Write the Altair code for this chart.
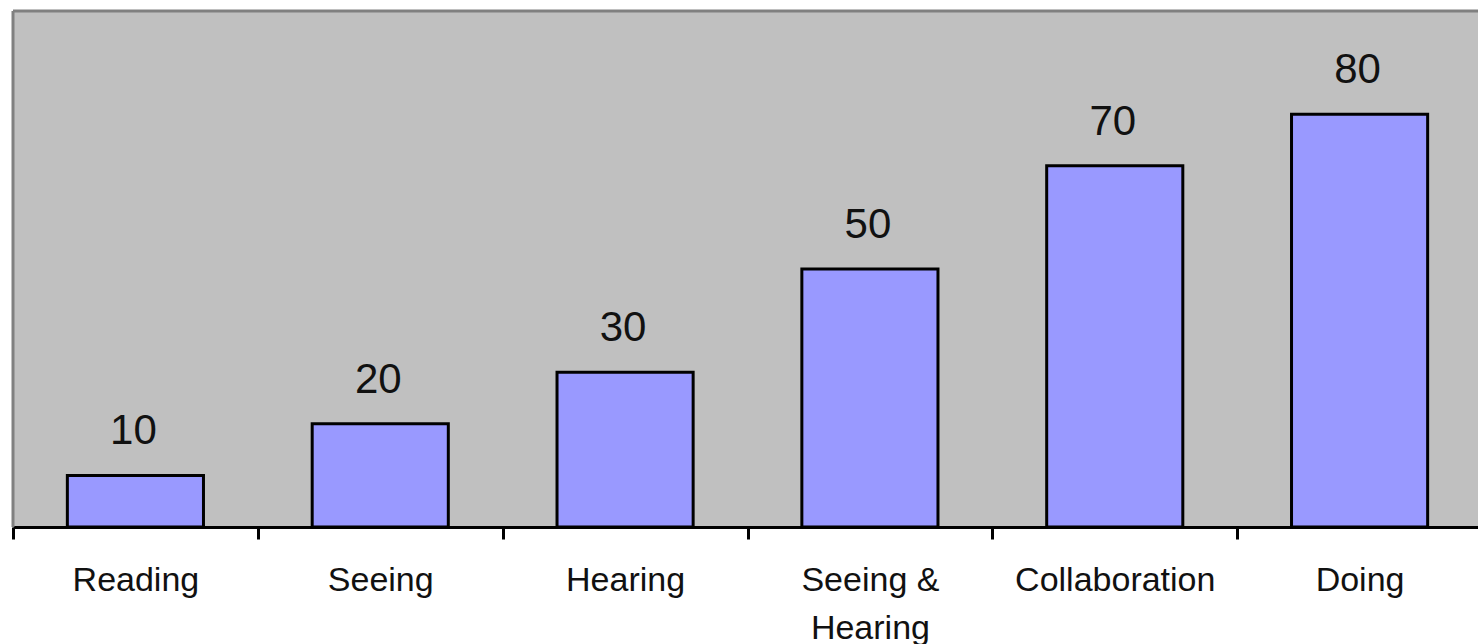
import altair as alt
import pandas as pd

categories = ["Reading", "Seeing", "Hearing", "Seeing & Hearing", "Collaboration", "Doing"]
values = [10, 20, 30, 50, 70, 80]

df = pd.DataFrame({"category": categories, "value": values})

W = 1465
H = 516

x_enc = alt.X(
    "category:N",
    sort=categories,
    title=None,
    scale=alt.Scale(range=[0, 1469], paddingInner=0, paddingOuter=0),
    axis=alt.Axis(
        labelAngle=0,
        labelFont="Liberation Sans",
        labelFontSize=34,
        labelColor="#111111",
        labelPadding=24,
        labelLineHeight=48,
        labelLimit=1000,
        labelExpr="datum.label == 'Seeing & Hearing' ? ['Seeing &', 'Hearing'] : datum.label",
        domainColor="black",
        domainWidth=3,
        tickColor="black",
        tickWidth=3,
        tickSize=12,
        tickBand="extent",
        grid=False,
    ),
)
y_enc = alt.Y("value:Q", scale=alt.Scale(domain=[0, 100]), axis=None)

base = alt.Chart(df)

bars = base.mark_bar(fill="#9999FF", stroke="black", strokeWidth=3, width={"band": 0.556}).encode(
    x=x_enc, y=y_enc
)

labels = base.mark_text(
    font="Liberation Sans", fontSize=42, color="#111111", baseline="alphabetic", dy=-31, dx=-2
).encode(x=x_enc, y=y_enc, text=alt.Text("value:Q"))

border_df = pd.DataFrame({"a": [0]})
top_border = alt.Chart(border_df).mark_rule(color="#808080", strokeWidth=3).encode(
    x=alt.value(0), x2=alt.value(W + 10), y=alt.value(0)
)
left_border = alt.Chart(border_df).mark_rule(color="#808080", strokeWidth=3).encode(
    x=alt.value(0), y=alt.value(0), y2=alt.value(H)
)

chart = (
    alt.layer(top_border, left_border, bars, labels)
    .properties(
        width=W,
        height=H,
        autosize="none",
        padding={"left": 13, "top": 11, "right": 0, "bottom": 117},
        background="white",
    )
    .configure_view(stroke=None, fill="#C0C0C0")
)

chart.save("out.html", embed_options={"renderer": "svg", "actions": False})
